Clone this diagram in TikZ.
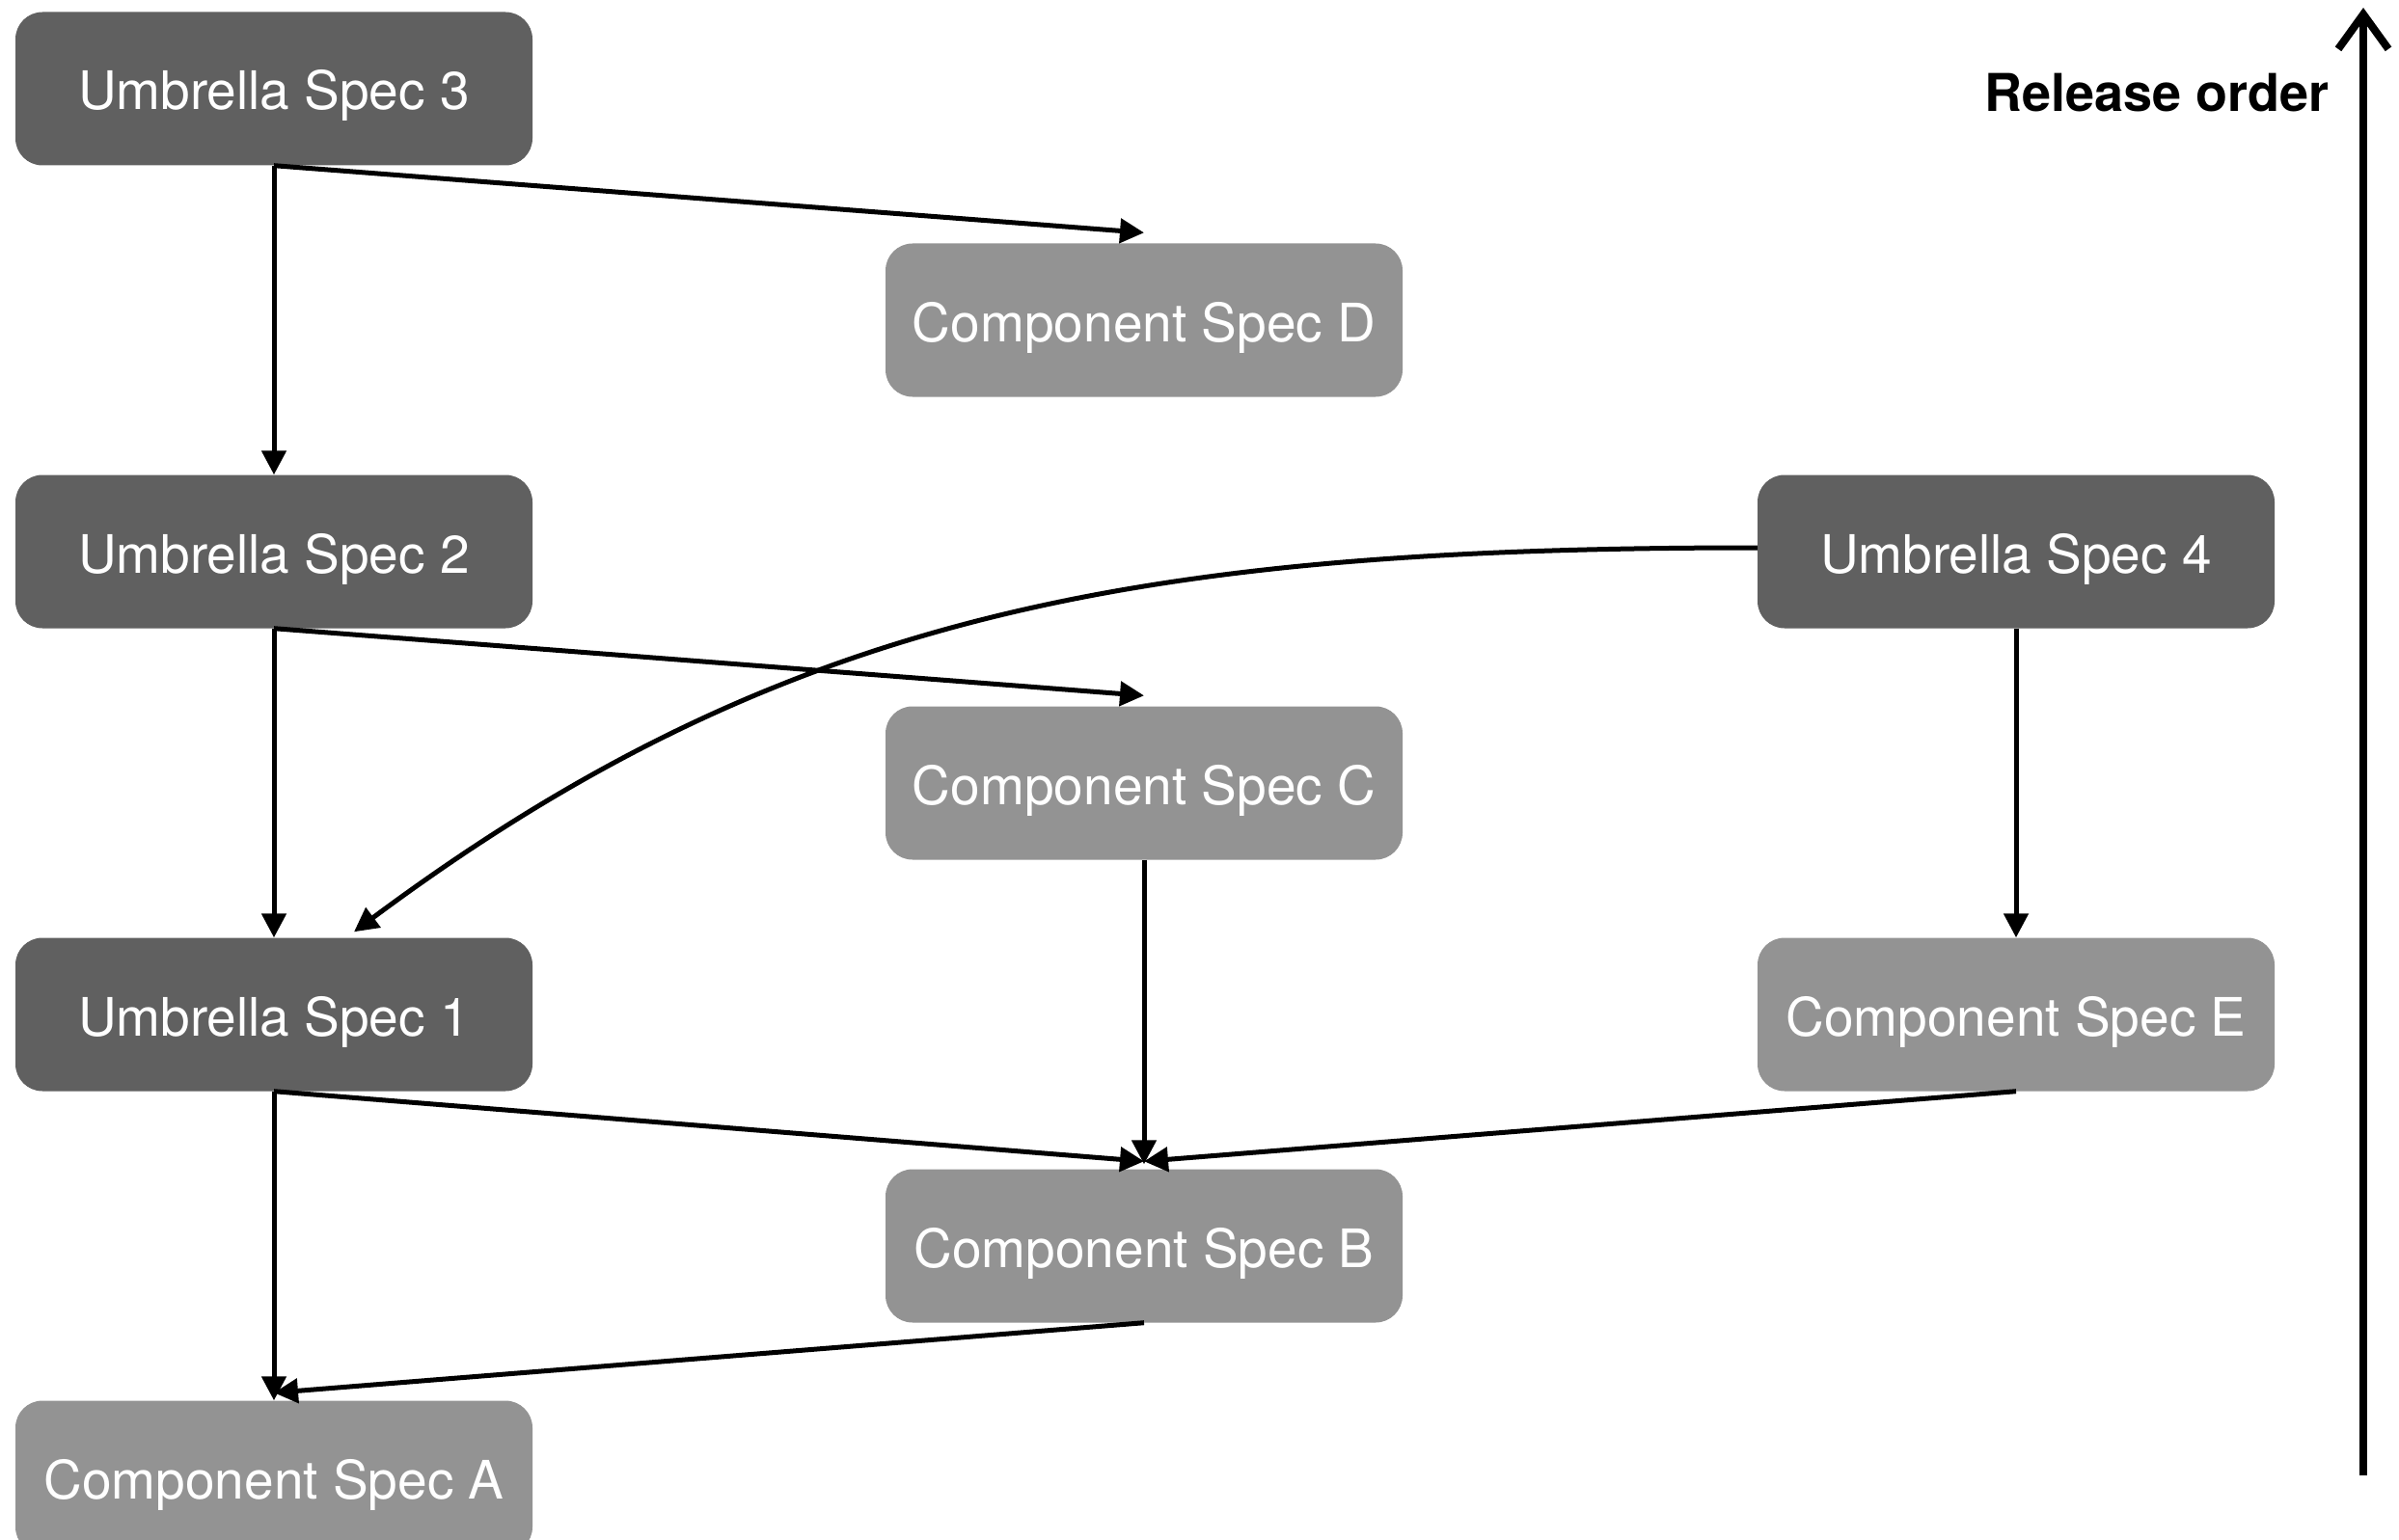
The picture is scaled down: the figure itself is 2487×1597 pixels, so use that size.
\documentclass[tikz,border=0pt]{standalone}
\usepackage{fontspec}
\setmainfont{TeX Gyre Heros}
\usetikzlibrary{arrows.meta,calc}
\definecolor{darkbox}{HTML}{606060}
\definecolor{lightbox}{HTML}{939393}
\begin{document}
\begin{tikzpicture}[x=1pt,y=-1pt,
  box/.style={rounded corners=28pt, minimum width=536pt, minimum height=159pt, text=white,
    font=\fontsize{55}{66}\selectfont, inner sep=0pt, text height=44pt, text depth=0pt},
  umb/.style={box, fill=darkbox},
  comp/.style={box, fill=lightbox},
  conn/.style={line width=5pt, -{Triangle[length=25pt,width=25pt]}},
]
\useasboundingbox (0,0) rectangle (2487,1597);
\clip (0,0) rectangle (2487,1597);
\node[umb] (u3) at (284,92) {Umbrella Spec 3};
\node[comp] (d) at (1186,332) {Component Spec D};
\node[umb] (u2) at (284,572) {Umbrella Spec 2};
\node[umb] (u4) at (2090,572) {Umbrella Spec 4};
\node[comp] (c) at (1186,812) {Component Spec C};
\node[umb] (u1) at (284,1052) {Umbrella Spec 1};
\node[comp] (e) at (2090,1052) {Component Spec E};
\node[comp] (b) at (1186,1292) {Component Spec B};
\node[comp] (a) at (284,1532) {Component Spec A};

\draw[conn] (u3.south) -- (u2.north);
\draw[conn] (u3.south) -- ($(d.north)+(0,-11)$);
\draw[conn] (u2.south) -- (u1.north);
\draw[conn] (u2.south) -- ($(c.north)+(0,-11)$);
\draw[conn] ($(u4.west)+(0,-4)$) .. controls +(-638,0) and +(446,-332) .. ($(u1.north)+(83,-6)$);
\draw[conn] (u4.south) -- (e.north);
\draw[conn] (c.south) -- ($(b.north)+(0,-5)$);
\draw[conn] (u1.south) -- ($(b.north)+(0,-8)$);
\draw[conn] (e.south) -- ($(b.north)+(0,-8)$);
\draw[conn] (u1.south) -- (a.north);
\draw[conn] (b.south) -- ($(a.north)+(0,-8)$);

\node[anchor=east, font=\fontsize{54}{64}\selectfont\bfseries, inner sep=0pt] (ro) at (2415,96) {Release order};
\coordinate (rb) at (2450,1530);
\coordinate (rt) at (2450,8);
\draw[line width=8pt, -{Straight Barb[length=36pt,width=52pt]}] (rb) -- (rt);
\end{tikzpicture}
\end{document}
